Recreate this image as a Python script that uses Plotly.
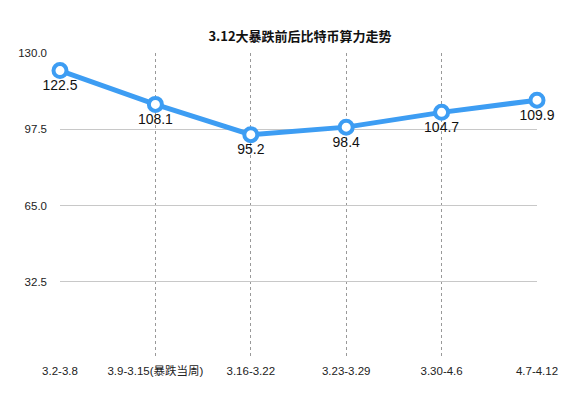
import plotly.graph_objects as go

categories = ["3.2-3.8", "3.9-3.15(暴跌当周)", "3.16-3.22", "3.23-3.29", "3.30-4.6", "4.7-4.12"]
values = [122.5, 108.1, 95.2, 98.4, 104.7, 109.9]
tick_vals = [32.5, 65.0, 97.5, 130.0]
tick_text = ["32.5", "65.0", "97.5", "130.0"]

fig = go.Figure(go.Scatter(
    x=list(range(len(categories))), y=values, mode="lines+markers+text",
    line=dict(color="#3d9df3", width=5),
    marker=dict(size=13, color="white", line=dict(color="#3d9df3", width=4)),
    text=[f"{v:.1f}" for v in values], textposition="bottom center",
    textfont=dict(size=14, color="#111", family="Liberation Sans, Arial"),
    cliponaxis=False,
))
fig.update_layout(
    width=584, height=401, margin=dict(l=52, r=55, t=45, b=51, autoexpand=False),
    plot_bgcolor="white", paper_bgcolor="white", showlegend=False,
    font=dict(family="Liberation Sans, Noto Sans CJK SC, Arial", size=11.5, color="#222"),
    title=dict(text="<b>3.12大暴跌前后比特币算力走势</b>", x=0.5, xanchor="center", y=0.94,
               font=dict(size=13, color="#111", family="Noto Sans CJK SC, Liberation Sans")),
    xaxis=dict(tickmode="array", tickvals=list(range(len(categories))), ticktext=categories,
               range=[0, len(categories) - 1], showgrid=True, gridcolor="#999", griddash="dot",
               gridwidth=1, zeroline=False, showline=False, ticks="", ticklabelstandoff=4,
               automargin=False),
    yaxis=dict(range=[0, 130], tickmode="array", tickvals=tick_vals, ticktext=tick_text,
               showgrid=True, gridcolor="#c8c8c8", zeroline=False, showline=False, ticks="",
               ticklabelstandoff=12, automargin=False),
)
fig.write_html("out.html")
